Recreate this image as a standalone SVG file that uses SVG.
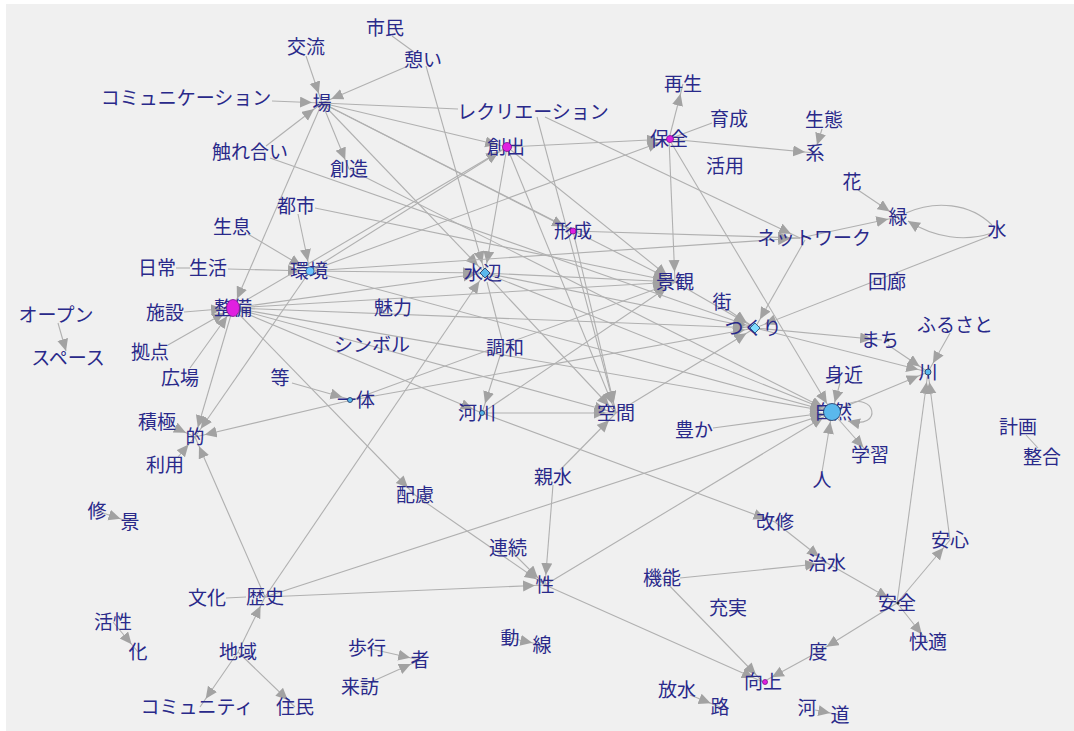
<svg xmlns="http://www.w3.org/2000/svg" width="1074" height="731" viewBox="0 0 1074 731">
<style>
.bg{fill:#f0f0f0}
.e{stroke:#b0b0b0;stroke-width:1.1;fill:none}
.a{marker-end:url(#ah)}
.b{marker-end:url(#ah2)}
text{font-family:"Noto Sans CJK JP","Noto Sans CJK SC",sans-serif;font-size:19px;fill:#29298a;text-anchor:middle}
.mg{fill:#e020e0;stroke:#7a1090;stroke-width:0.8}
.bl{fill:#5ab8ec;stroke:#1a3060;stroke-width:0.8}
</style>
<defs>
<marker id="ah" markerUnits="userSpaceOnUse" markerWidth="26" markerHeight="12" refX="22" refY="5.5" orient="auto"><path d="M0,0 L12,5.5 L0,11 z" fill="#a2a2a2"/></marker>
<marker id="ah2" markerUnits="userSpaceOnUse" markerWidth="14" markerHeight="12" refX="12" refY="5.5" orient="auto"><path d="M0,0 L12,5.5 L0,11 z" fill="#a2a2a2"/></marker>
</defs>
<rect width="1074" height="731" fill="#ffffff"/>
<rect class="bg" x="6" y="4" width="1068" height="727"/>
<g id="edges">
<path class="e a" d="M306,56 L322,103"/>
<path class="e" d="M392,36 L414,52"/>
<path class="e a" d="M408,66 L322,103"/>
<path class="e a" d="M272,101 L322,103"/>
<path class="e a" d="M266,146 L322,103"/>
<path class="e a" d="M322,103 L349,169"/>
<path class="e a" d="M322,103 L233,308"/>
<path class="e a" d="M322,103 L507,147"/>
<path class="e" d="M322,103 L458,109"/>
<path class="e a" d="M322,103 L485,273"/>
<path class="e a" d="M322,103 L675,282"/>
<path class="e a" d="M322,103 L573,231"/>
<path class="e a" d="M426,66 L485,273"/>
<path class="e a" d="M507,147 L669,139"/>
<path class="e a" d="M669,139 L683,84"/>
<path class="e" d="M669,139 L712,123"/>
<path class="e a" d="M669,139 L815,153"/>
<path class="e b" d="M822,129 L817,145"/>
<path class="e a" d="M507,147 L485,273"/>
<path class="e a" d="M507,147 L616,413"/>
<path class="e a" d="M507,147 L675,282"/>
<path class="e a" d="M310,271 L507,147"/>
<path class="e a" d="M310,271 L669,139"/>
<path class="e a" d="M537,117 L616,413"/>
<path class="e a" d="M545,117 L800,238"/>
<path class="e a" d="M669,139 L675,282"/>
<path class="e a" d="M669,139 L832,412"/>
<path class="e a" d="M858,190 L898,217"/>
<path class="e" d="M906,213 C935,200 970,203 992,225"/>
<path class="e b" d="M992,233 C965,242 935,238 908,221"/>
<path class="e a" d="M800,238 L898,217"/>
<path class="e a" d="M805,240 L755,328"/>
<path class="e a" d="M990,236 L755,328"/>
<path class="e a" d="M573,231 L800,238"/>
<path class="e a" d="M573,231 L616,413"/>
<path class="e a" d="M310,271 L800,238"/>
<path class="e a" d="M298,214 L310,271"/>
<path class="e a" d="M248,234 L310,271"/>
<path class="e" d="M176,268 L190,268"/>
<path class="e a" d="M228,269 L310,271"/>
<path class="e a" d="M310,271 L485,273"/>
<path class="e a" d="M485,273 L675,282"/>
<path class="e a" d="M485,273 L755,328"/>
<path class="e a" d="M485,273 L832,412"/>
<path class="e a" d="M485,273 L616,413"/>
<path class="e" d="M487,282 L502,340"/>
<path class="e a" d="M500,356 L482,413"/>
<path class="e a" d="M265,597 L485,273"/>
<path class="e a" d="M233,308 L485,273"/>
<path class="e a" d="M233,308 L675,282"/>
<path class="e a" d="M233,308 L755,328"/>
<path class="e a" d="M233,308 L832,412"/>
<path class="e a" d="M233,308 L616,413"/>
<path class="e a" d="M233,308 L482,413"/>
<path class="e a" d="M233,308 L415,495"/>
<path class="e a" d="M233,308 L507,147"/>
<path class="e a" d="M233,308 L195,437"/>
<path class="e a" d="M184,312 L233,308"/>
<path class="e a" d="M168,345 L233,308"/>
<path class="e a" d="M190,368 L233,308"/>
<path class="e b" d="M58,323 L66,351"/>
<path class="e a" d="M310,271 L195,437"/>
<path class="e a" d="M176,428 L195,437"/>
<path class="e a" d="M178,457 L195,437"/>
<path class="e a" d="M352,400 L195,437"/>
<path class="e a" d="M265,597 L195,437"/>
<path class="e a" d="M292,383 L352,400"/>
<path class="e a" d="M352,400 L755,328"/>
<path class="e a" d="M352,400 L675,282"/>
<path class="e a" d="M482,413 L675,282"/>
<path class="e a" d="M482,413 L616,413"/>
<path class="e a" d="M482,413 L775,522"/>
<path class="e a" d="M616,413 L755,328"/>
<path class="e a" d="M560,470 L616,413"/>
<path class="e a" d="M553,485 L545,585"/>
<path class="e a" d="M713,428 L832,412"/>
<path class="e a" d="M728,310 L755,328"/>
<path class="e a" d="M675,282 L755,328"/>
<path class="e a" d="M755,328 L882,340"/>
<path class="e a" d="M755,328 L928,372"/>
<path class="e a" d="M888,345 L928,372"/>
<path class="e a" d="M950,333 L928,372"/>
<path class="e a" d="M832,412 L928,372"/>
<path class="e a" d="M840,383 L832,412"/>
<path class="e a" d="M822,472 L832,412"/>
<path class="e a" d="M832,412 L870,455"/>
<path class="e b" d="M846,405 C875,390 885,430 848,421"/>
<path class="e" d="M1026,435 L1038,448"/>
<path class="e a" d="M310,271 L832,412"/>
<path class="e a" d="M265,597 L832,412"/>
<path class="e a" d="M545,585 L832,412"/>
<path class="e a" d="M349,169 L832,412"/>
<path class="e a" d="M270,158 L755,328"/>
<path class="e a" d="M315,208 L675,282"/>
<path class="e a" d="M897,603 L928,372"/>
<path class="e a" d="M950,540 L928,372"/>
<path class="e a" d="M897,603 L950,540"/>
<path class="e a" d="M897,603 L928,642"/>
<path class="e a" d="M897,603 L818,652"/>
<path class="e a" d="M818,652 L763,682"/>
<path class="e a" d="M827,563 L897,603"/>
<path class="e a" d="M775,522 L827,563"/>
<path class="e a" d="M680,578 L827,563"/>
<path class="e a" d="M662,578 L763,682"/>
<path class="e a" d="M545,585 L763,682"/>
<path class="e a" d="M690,695 L720,707"/>
<path class="e a" d="M815,710 L840,715"/>
<path class="e a" d="M415,495 L545,585"/>
<path class="e a" d="M508,548 L545,585"/>
<path class="e a" d="M265,597 L545,585"/>
<path class="e" d="M226,598 L246,597"/>
<path class="e a" d="M238,652 L265,597"/>
<path class="e a" d="M238,652 L200,707"/>
<path class="e a" d="M238,652 L295,707"/>
<path class="e a" d="M97,511 L130,522"/>
<path class="e a" d="M113,622 L138,652"/>
<path class="e a" d="M367,648 L420,660"/>
<path class="e a" d="M360,687 L420,660"/>
<path class="e a" d="M510,638 L542,645"/>
</g>
<g id="n-kouryu"><text x="306" y="54">交流</text></g>
<g id="n-shimin"><text x="385" y="35">市民</text></g>
<g id="n-ikoi"><text x="423" y="67">憩い</text></g>
<g id="n-comm"><text x="186" y="105">コミュニケーション</text></g>
<g id="n-ba"><text x="322" y="110">場</text></g>
<g id="n-recre"><text x="533" y="119">レクリエーション</text></g>
<g id="n-saisei"><text x="683" y="91">再生</text></g>
<g id="n-ikusei"><text x="729" y="126">育成</text></g>
<g id="n-seitai"><text x="824" y="127">生態</text></g>
<g id="n-kei"><text x="815" y="160">系</text></g>
<g id="n-hozen"><text x="669" y="146">保全</text><circle cx="670" cy="139" r="3.5" class="mg"/></g>
<g id="n-soushutsu"><text x="506" y="154">創出</text><circle cx="507" cy="147" r="4.5" class="mg"/></g>
<g id="n-katsuyo"><text x="725" y="173">活用</text></g>
<g id="n-fureai"><text x="250" y="159">触れ合い</text></g>
<g id="n-souzou"><text x="349" y="176">創造</text></g>
<g id="n-hana"><text x="852" y="189">花</text></g>
<g id="n-midori"><text x="898" y="224">緑</text></g>
<g id="n-mizu"><text x="997" y="237">水</text></g>
<g id="n-toshi"><text x="296" y="213">都市</text></g>
<g id="n-seisoku"><text x="232" y="234">生息</text></g>
<g id="n-keisei"><text x="573" y="238">形成</text><circle cx="573" cy="231" r="3" class="mg"/></g>
<g id="n-network"><text x="814" y="245">ネットワーク</text></g>
<g id="n-nichijo"><text x="157" y="275">日常</text></g>
<g id="n-seikatsu"><text x="208" y="275">生活</text></g>
<g id="n-kankyo"><text x="309" y="278">環境</text><circle cx="310" cy="271" r="4" fill="#6cc4ff" stroke="#2a5a90" stroke-width="0.7"/></g>
<g id="n-mizube"><text x="483" y="280">水辺</text><path d="M485,268 L490,273 L485,278 L480,273 z" class="bl"/></g>
<g id="n-keikan"><text x="675" y="289">景観</text></g>
<g id="n-kairo"><text x="887" y="289">回廊</text></g>
<g id="n-machi1"><text x="722" y="309">街</text></g>
<g id="n-open"><text x="56" y="322">オープン</text></g>
<g id="n-shisetsu"><text x="165" y="320">施設</text></g>
<g id="n-seibi"><text x="233" y="315">整備</text><ellipse cx="233" cy="308" rx="6.5" ry="8.5" class="mg"/></g>
<g id="n-miryoku"><text x="393" y="315">魅力</text></g>
<g id="n-tsukuri"><text x="753" y="335">つくり</text><path d="M755,323 L760,328 L755,333 L750,328 z" fill="#7fdcff" stroke="#1a4070" stroke-width="0.8"/></g>
<g id="n-machi2"><text x="880" y="347">まち</text><circle cx="888" cy="340" r="1.5" fill="#223"/></g>
<g id="n-furusato"><text x="955" y="332">ふるさと</text></g>
<g id="n-kyoten"><text x="150" y="359">拠点</text></g>
<g id="n-symbol"><text x="372" y="352">シンボル</text></g>
<g id="n-chowa"><text x="505" y="355">調和</text></g>
<g id="n-space"><text x="68" y="365">スペース</text></g>
<g id="n-hiroba"><text x="180" y="385">広場</text></g>
<g id="n-tou"><text x="280" y="385">等</text></g>
<g id="n-mijika"><text x="844" y="382">身近</text></g>
<g id="n-kawa"><text x="928" y="379">川</text><circle cx="928" cy="372" r="3" class="bl"/></g>
<g id="n-ittai"><text x="356" y="407">一体</text><circle cx="350" cy="400" r="2.5" class="bl"/></g>
<g id="n-kasen"><text x="477" y="420">河川</text><circle cx="482" cy="413" r="2.5" class="bl"/></g>
<g id="n-kukan"><text x="616" y="420">空間</text></g>
<g id="n-sekkyoku"><text x="157" y="429">積極</text></g>
<g id="n-teki"><text x="195" y="444">的</text></g>
<g id="n-yutaka"><text x="694" y="437">豊か</text></g>
<g id="n-shizen"><text x="833" y="419">自然</text><circle cx="832" cy="412" r="8.5" class="bl"/></g>
<g id="n-keikaku"><text x="1018" y="434">計画</text></g>
<g id="n-seigo"><text x="1042" y="464">整合</text></g>
<g id="n-riyo"><text x="165" y="472">利用</text></g>
<g id="n-gakushu"><text x="870" y="462">学習</text></g>
<g id="n-hito"><text x="822" y="487">人</text></g>
<g id="n-shinsui"><text x="553" y="484">親水</text></g>
<g id="n-hairyo"><text x="415" y="502">配慮</text></g>
<g id="n-shu"><text x="97" y="518">修</text></g>
<g id="n-kei2"><text x="130" y="529">景</text></g>
<g id="n-kaishu"><text x="775" y="529">改修</text></g>
<g id="n-anshin"><text x="950" y="547">安心</text></g>
<g id="n-renzoku"><text x="508" y="555">連続</text></g>
<g id="n-chisui"><text x="827" y="570">治水</text></g>
<g id="n-sei"><text x="545" y="592">性</text></g>
<g id="n-kino"><text x="662" y="585">機能</text></g>
<g id="n-jujitsu"><text x="728" y="615">充実</text></g>
<g id="n-anzen"><text x="897" y="610">安全</text><circle cx="898" cy="603" r="1.5" fill="#223"/></g>
<g id="n-bunka"><text x="207" y="605">文化</text></g>
<g id="n-rekishi"><text x="265" y="604">歴史</text></g>
<g id="n-kassei"><text x="113" y="629">活性</text></g>
<g id="n-ka"><text x="138" y="659">化</text></g>
<g id="n-chiiki"><text x="238" y="659">地域</text></g>
<g id="n-kaiteki"><text x="928" y="649">快適</text></g>
<g id="n-hoko"><text x="367" y="655">歩行</text></g>
<g id="n-sha"><text x="420" y="667">者</text></g>
<g id="n-do"><text x="510" y="645">動</text></g>
<g id="n-sen"><text x="542" y="652">線</text></g>
<g id="n-tabi"><text x="818" y="659">度</text></g>
<g id="n-kojo"><text x="763" y="689">向上</text><circle cx="765" cy="682" r="2.5" class="mg"/></g>
<g id="n-raiho"><text x="360" y="694">来訪</text></g>
<g id="n-hosui"><text x="677" y="697">放水</text></g>
<g id="n-ro"><text x="720" y="714">路</text></g>
<g id="n-kawa2"><text x="807" y="715">河</text></g>
<g id="n-michi"><text x="840" y="722">道</text></g>
<g id="n-community"><text x="197" y="714">コミュニティ</text></g>
<g id="n-jumin"><text x="295" y="714">住民</text></g>
</svg>
